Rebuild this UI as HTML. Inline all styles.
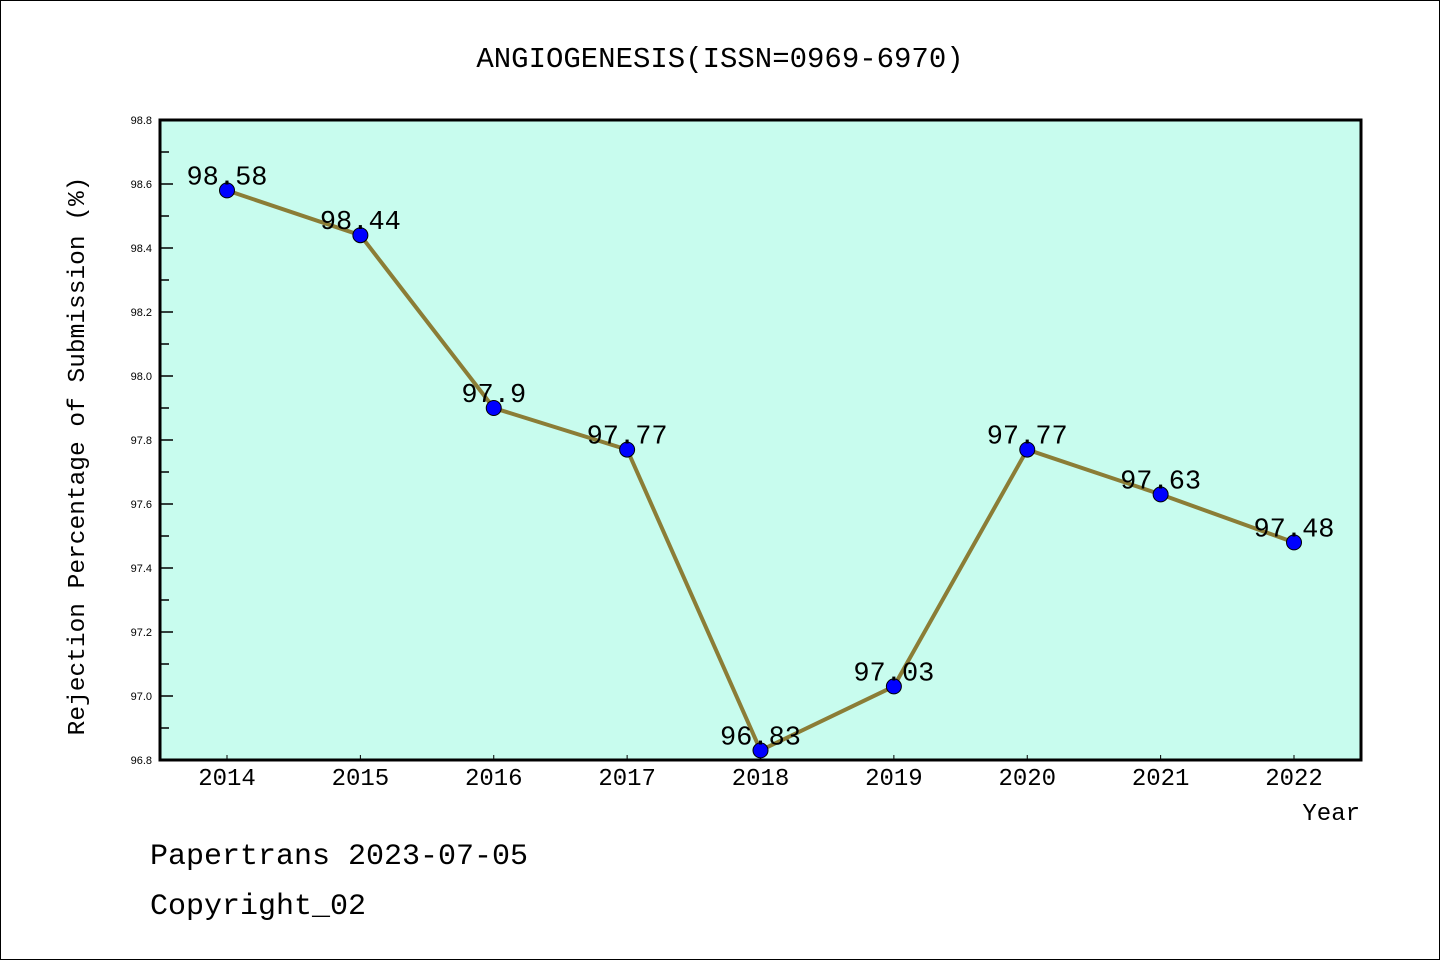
<!DOCTYPE html>
<html><head><meta charset="utf-8"><style>
body{margin:0;background:#fff}
svg{display:block;font-family:"Liberation Mono","WenQuanYi Zen Hei",monospace}
</style></head><body>
<svg id="c" width="1440" height="960" xmlns="http://www.w3.org/2000/svg">
<rect x="0.5" y="0.5" width="1439" height="959" fill="#fff" stroke="#000"/>
<text x="720" y="67" font-size="29" text-anchor="middle">ANGIOGENESIS(ISSN=0969-6970)</text>
<rect x="160" y="120" width="1201" height="640" fill="#c8fcee"/>
<g id="ax"></g>
<g id="marks"></g>
<rect x="160" y="120" width="1201" height="640" fill="none" stroke="#000" stroke-width="3"/>
<text x="1360" y="820" font-size="24" text-anchor="end">Year</text>
<text transform="translate(84,456) rotate(-90)" font-size="24.5" text-anchor="middle">Rejection Percentage of Submission (%)</text>
<text x="150" y="864" font-size="30">Papertrans 2023-07-05</text>
<text x="150" y="914" font-size="30">Copyright_02</text>
</svg>
<script>
const years = ["2014","2015","2016","2017","2018","2019","2020","2021","2022"];
const values = [98.58,98.44,97.9,97.77,96.83,97.03,97.77,97.63,97.48];
const labels = ["98.58","98.44","97.9","97.77","96.83","97.03","97.77","97.63","97.48"];
const yTicks = ["96.8","97.0","97.2","97.4","97.6","97.8","98.0","98.2","98.4","98.6","98.8"];
const NS="http://www.w3.org/2000/svg";
const x0=227,dx=133.375,yMin=96.8,yMax=98.8,yTop=120,yBot=760;
const xs=i=>x0+i*dx;
const ys=v=>yBot-(v-yMin)/(yMax-yMin)*(yBot-yTop);
function mk(t,a,p){const e=document.createElementNS(NS,t);for(const k in a)e.setAttribute(k,a[k]);p.appendChild(e);return e;}
const ax=document.getElementById('ax'),mg=document.getElementById('marks');
yTicks.forEach((t,i)=>{const v=parseFloat(t),y=ys(v);
 const l=mk('line',{x1:160,x2:173,y1:y,y2:y,stroke:'#000','stroke-width':1.5},ax);
 
 
 const tx=mk('text',{x:152,y:y+4,'font-size':11,'text-anchor':'end','font-family':'Liberation Sans, sans-serif'},ax);tx.textContent=t;
 
 
 if(i<yTicks.length-1){const ym=ys(v+0.1);
  const n=mk('line',{x1:160,x2:169,y1:ym,y2:ym,stroke:'#000','stroke-width':1.5},ax);
  
  }
});
years.forEach((t,i)=>{const x=xs(i);
 const l=mk('line',{x1:x,x2:x,y1:yBot,y2:yBot-5,stroke:'#000','stroke-width':1},ax);
 
 
 const tx=mk('text',{x:x,y:785,'font-size':24,'text-anchor':'middle'},ax);tx.textContent=t;
 
 
});
const pl=mk('polyline',{points:values.map((v,i)=>xs(i)+','+ys(v)).join(' '),fill:'none',stroke:'#8b7d36','stroke-width':4},mg);


values.forEach((v,i)=>{
 const c=mk('circle',{cx:xs(i),cy:ys(v),r:7.5,fill:'#0000ff',stroke:'#000','stroke-width':1},mg);
 
 
 const t=mk('text',{x:xs(i),y:ys(v)-6,'font-size':27,'text-anchor':'middle'},mg);t.textContent=labels[i];
 
 
});
</script>
</body></html>
